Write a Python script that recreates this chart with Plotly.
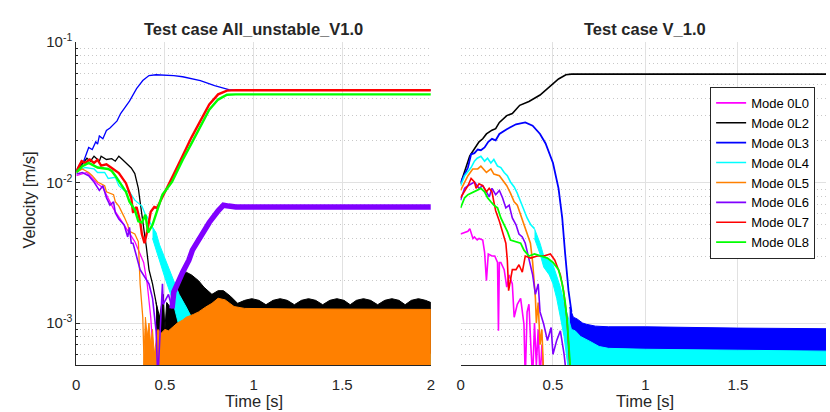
import plotly.graph_objects as go
import math

W, H = 830, 412

# ---------------- Left panel: Test case All_unstable_V1.0 ----------------
L_t_mag = [0, 0.03, 0.06, 0.09, 0.12, 0.15, 0.18, 0.21, 0.24, 0.27, 0.30, 0.33, 0.36, 0.38, 0.40, 0.41, 0.42, 0.43, 0.45]
L_v_mag = [0.0112, 0.0115, 0.0118, 0.0108, 0.0098, 0.0092, 0.0078, 0.0065, 0.0057, 0.0050, 0.0043, 0.0038, 0.0031, 0.0027, 0.0019, 0.0014, 0.0011, 0.0007, 0.0004]

L_t_blk = [0, 0.034, 0.06, 0.08, 0.10, 0.13, 0.14, 0.17, 0.20, 0.22, 0.24, 0.26, 0.29, 0.31, 0.33, 0.35, 0.36, 0.37, 0.385, 0.395, 0.41, 0.43, 0.45, 0.47]
L_v_blk = [0.0120, 0.0135, 0.0149, 0.0142, 0.0154, 0.0142, 0.0154, 0.0146, 0.0148, 0.0142, 0.0154, 0.0146, 0.0135, 0.0127, 0.0116, 0.0091, 0.0073, 0.0057, 0.0043, 0.0035, 0.0024, 0.0019, 0.0014, 0.0009]
L_t_blk_up = [0.45, 0.47, 0.49, 0.50, 0.51, 0.53, 0.55, 0.57, 0.60, 0.62, 0.65, 0.69, 0.72, 0.765, 0.80, 0.83, 0.87, 0.91, 0.95, 0.99, 1.03, 1.07, 1.11, 1.15, 1.19, 1.23, 1.27, 1.31, 1.35, 1.39, 1.43, 1.47, 1.51, 1.545, 1.58, 1.62, 1.66, 1.70, 1.74, 1.78, 1.82, 1.855, 1.89, 1.93, 1.97, 2.0]
L_v_blk_up = [0.0014, 0.0011, 0.0016, 0.0009, 0.0014, 0.0013, 0.0016, 0.0019, 0.0022, 0.0023, 0.0022, 0.0020, 0.0018, 0.0016, 0.0017, 0.0017, 0.00155, 0.00138, 0.00145, 0.00149, 0.00145, 0.00135, 0.00145, 0.00149, 0.00145, 0.00135, 0.00145, 0.00149, 0.00145, 0.00135, 0.00145, 0.00149, 0.00145, 0.00135, 0.00145, 0.00149, 0.00145, 0.00135, 0.00145, 0.00149, 0.00145, 0.00135, 0.00145, 0.00149, 0.00145, 0.00140]
L_t_blk_lo = [0.45, 2.0]
L_v_blk_lo = [0.0003, 0.0003]

L_t_blu = [0, 0.02, 0.04, 0.06, 0.07, 0.09, 0.11, 0.12, 0.13, 0.15, 0.17, 0.19, 0.21, 0.23, 0.25, 0.27, 0.30, 0.34, 0.375, 0.41, 0.45, 0.55, 0.60, 0.70, 0.78, 0.86, 0.90, 2.0]
L_v_blu = [0.0122, 0.0135, 0.0140, 0.0165, 0.0178, 0.0172, 0.0195, 0.0188, 0.0215, 0.0205, 0.0235, 0.0245, 0.0262, 0.0275, 0.0310, 0.0335, 0.0380, 0.0467, 0.0533, 0.0578, 0.0586, 0.0578, 0.0567, 0.0533, 0.0491, 0.0459, 0.0455, 0.0455]

L_t_cyn = [0, 0.05, 0.10, 0.12, 0.16, 0.18, 0.22, 0.24, 0.27, 0.30, 0.33, 0.37, 0.39, 0.40, 0.43, 0.45]
L_v_cyn = [0.0120, 0.0128, 0.0125, 0.0118, 0.0118, 0.0107, 0.0109, 0.0095, 0.0088, 0.0086, 0.0075, 0.0068, 0.0059, 0.0057, 0.0048, 0.0043]
L_t_cyn_up = [0.43, 0.45, 0.47, 0.50, 0.54, 0.58, 0.62, 0.65, 0.69, 0.72, 0.76, 0.80, 2.0]
L_v_cyn_up = [0.0048, 0.0044, 0.0036, 0.0029, 0.0022, 0.0016, 0.0013, 0.0011, 0.00093, 0.0008, 0.0007, 0.0006, 0.0006]
L_t_cyn_lo = [0.43, 0.47, 0.50, 0.54, 0.57, 0.60, 0.63, 0.66, 2.0]
L_v_cyn_lo = [0.0040, 0.0028, 0.0021, 0.0015, 0.00105, 0.00075, 0.0006, 0.0003, 0.0003]

L_t_org = [0, 0.034, 0.07, 0.09, 0.12, 0.16, 0.17, 0.21, 0.22, 0.24, 0.27, 0.29, 0.30, 0.33, 0.35, 0.355, 0.36, 0.375, 0.385]
L_v_org = [0.0118, 0.0125, 0.0118, 0.0112, 0.0101, 0.0095, 0.0086, 0.0082, 0.0073, 0.0068, 0.0057, 0.0050, 0.0045, 0.0043, 0.0038, 0.0028, 0.0019, 0.0011, 0.0004]
L_t_org_up = [0.38, 0.39, 0.40, 0.41, 0.42, 0.43, 0.44, 0.46, 0.48, 0.50, 0.52, 0.54, 0.57, 0.60, 0.62, 0.66, 0.69, 0.73, 0.765, 0.80, 0.84, 0.89, 0.95, 1.2, 1.5, 1.8, 2.0]
L_v_org_up = [0.0005, 0.0011, 0.0008, 0.0010, 0.0007, 0.0009, 0.0006, 0.0009, 0.00085, 0.0009, 0.00088, 0.00093, 0.0010, 0.00105, 0.0011, 0.00115, 0.0012, 0.0013, 0.00138, 0.0015, 0.00146, 0.00131, 0.00127, 0.00126, 0.00126, 0.00125, 0.00125]
L_t_org_lo = [0.38, 2.0]
L_v_org_lo = [0.0003, 0.0003]

L_t_pur = [0, 0.034, 0.07, 0.10, 0.13, 0.15, 0.17, 0.19, 0.21, 0.22, 0.24, 0.27, 0.29, 0.30, 0.31, 0.32, 0.36, 0.41, 0.43, 0.45, 0.46, 0.47, 0.486, 0.49, 0.52, 0.54]
L_v_pur = [0.0115, 0.0118, 0.0112, 0.0101, 0.0088, 0.0095, 0.0078, 0.0069, 0.0073, 0.0061, 0.0055, 0.0050, 0.0041, 0.0048, 0.0037, 0.0037, 0.0024, 0.0019, 0.0015, 0.00088, 0.0004, 0.00075, 0.0019, 0.00136, 0.0016, 0.00127]
L_t_pur2 = [0.54, 0.55, 0.60, 0.635, 0.655, 0.69, 0.75, 0.80, 0.83, 0.86, 0.90, 1.2, 1.5, 1.8, 2.0]
L_v_pur2 = [0.00127, 0.00166, 0.0023, 0.0028, 0.0033, 0.0039, 0.0052, 0.0063, 0.0069, 0.0068, 0.0067, 0.0067, 0.0067, 0.0067, 0.0067]

L_t_red = [0, 0.03, 0.05, 0.076, 0.10, 0.12, 0.14, 0.17, 0.20, 0.24, 0.28, 0.31, 0.32, 0.34, 0.36, 0.37, 0.385, 0.40, 0.42, 0.44, 0.455, 0.50, 0.55, 0.60, 0.65, 0.70, 0.75, 0.80, 0.85, 0.90, 2.0]
L_v_red = [0.0120, 0.0142, 0.0138, 0.0146, 0.0138, 0.0145, 0.0132, 0.0135, 0.0127, 0.0117, 0.0099, 0.0078, 0.0061, 0.0067, 0.0053, 0.0043, 0.0037, 0.0045, 0.0062, 0.0067, 0.0066, 0.0085, 0.0115, 0.0155, 0.0210, 0.0275, 0.0360, 0.0425, 0.0452, 0.0455, 0.0455]

L_t_grn = [0, 0.034, 0.07, 0.12, 0.18, 0.20, 0.22, 0.25, 0.28, 0.30, 0.33, 0.35, 0.37, 0.39, 0.405, 0.43, 0.45, 0.486, 0.54, 0.60, 0.65, 0.70, 0.75, 0.80, 0.85, 0.90, 2.0]
L_v_grn = [0.0118, 0.0131, 0.0138, 0.0128, 0.0125, 0.0121, 0.0112, 0.0099, 0.0086, 0.0073, 0.0064, 0.0053, 0.0052, 0.0059, 0.0044, 0.0050, 0.0059, 0.0082, 0.0101, 0.0145, 0.0190, 0.0250, 0.0330, 0.0390, 0.0422, 0.0425, 0.0425]

# ---------------- Right panel: Test case V_1.0 ----------------
R_t_mag = [0, 0.02, 0.04, 0.05, 0.067, 0.075, 0.09, 0.10, 0.12, 0.13, 0.14, 0.15, 0.17, 0.185, 0.20, 0.205, 0.21, 0.218, 0.236, 0.25, 0.263, 0.28, 0.29, 0.307, 0.325, 0.343, 0.35, 0.36, 0.37, 0.38, 0.39, 0.40, 0.41, 0.42, 0.43, 0.44, 0.45]
R_v_mag = [0.0043, 0.0044, 0.0045, 0.0047, 0.0040, 0.0041, 0.0039, 0.0040, 0.0039, 0.0032, 0.0020, 0.0031, 0.0030, 0.0030, 0.0027, 0.00088, 0.0027, 0.0027, 0.0024, 0.0018, 0.0022, 0.0019, 0.0011, 0.00136, 0.0015, 0.00098, 0.0004, 0.0012, 0.00136, 0.0007, 0.0004, 0.0010, 0.0005, 0.0009, 0.0004, 0.0007, 0.0004]

R_t_blk = [0, 0.05, 0.10, 0.12, 0.14, 0.17, 0.19, 0.21, 0.25, 0.28, 0.32, 0.37, 0.43, 0.48, 0.53, 0.57, 0.60, 2.0]
R_v_blk = [0.0098, 0.0155, 0.0195, 0.0205, 0.0222, 0.0236, 0.0242, 0.0268, 0.0300, 0.0310, 0.0355, 0.0378, 0.0420, 0.0480, 0.0547, 0.0586, 0.0592, 0.0592]

R_t_blu = [0, 0.02, 0.04, 0.057, 0.075, 0.093, 0.11, 0.13, 0.15, 0.17, 0.19, 0.21, 0.25, 0.30, 0.35, 0.39, 0.43, 0.46, 0.50, 0.53, 0.55, 0.566, 0.584, 0.60]
R_v_blu = [0.0100, 0.0112, 0.0128, 0.0159, 0.0162, 0.0172, 0.0170, 0.0178, 0.0195, 0.0205, 0.0200, 0.0222, 0.0240, 0.0260, 0.0268, 0.0254, 0.0222, 0.0190, 0.0138, 0.0091, 0.0056, 0.0031, 0.0017, 0.0012]
R_t_blu_up = [0.59, 0.61, 0.63, 0.66, 0.68, 0.73, 0.80, 1.0, 1.5, 2.0]
R_v_blu_up = [0.0013, 0.0011, 0.00107, 0.0010, 0.00098, 0.00095, 0.00094, 0.00094, 0.00092, 0.00091]
R_t_blu_lo = [0.59, 2.0]
R_v_blu_lo = [0.0003, 0.0003]

R_t_cyn = [0, 0.022, 0.057, 0.075, 0.09, 0.11, 0.13, 0.146, 0.164, 0.18, 0.20, 0.218, 0.236, 0.253, 0.27, 0.29, 0.307, 0.325, 0.343, 0.36, 0.38, 0.40]
R_v_cyn = [0.0095, 0.0112, 0.0128, 0.0142, 0.0149, 0.0154, 0.0142, 0.0149, 0.0138, 0.0146, 0.0131, 0.0128, 0.0118, 0.0112, 0.0101, 0.0093, 0.0084, 0.0073, 0.0063, 0.0056, 0.0050, 0.0047]
R_t_cyn_up = [0.40, 0.43, 0.45, 0.48, 0.50, 0.52, 0.54, 0.56, 0.58, 0.60, 0.62, 0.65, 0.70, 0.75, 0.80, 1.0, 1.5, 2.0]
R_v_cyn_up = [0.0047, 0.0037, 0.0030, 0.0028, 0.0026, 0.0022, 0.0018, 0.0014, 0.0011, 0.0009, 0.00088, 0.0008, 0.00074, 0.00068, 0.00066, 0.00065, 0.00064, 0.00063]
R_t_cyn_lo = [0.40, 0.43, 0.45, 0.48, 0.50, 0.52, 0.54, 0.56, 0.58, 0.60, 2.0]
R_v_cyn_lo = [0.0040, 0.0031, 0.0025, 0.0022, 0.0019, 0.0015, 0.0011, 0.0008, 0.0005, 0.0003, 0.0003]

R_t_org = [0, 0.04, 0.066, 0.093, 0.11, 0.14, 0.164, 0.18, 0.21, 0.236, 0.25, 0.27, 0.29, 0.307, 0.325, 0.343, 0.36, 0.378, 0.39, 0.40, 0.405, 0.41, 0.42, 0.43, 0.44, 0.45]
R_v_org = [0.0088, 0.0112, 0.0125, 0.0125, 0.0131, 0.0118, 0.0125, 0.0115, 0.0112, 0.0101, 0.0095, 0.0084, 0.0073, 0.0069, 0.0059, 0.0050, 0.0043, 0.0037, 0.0027, 0.0018, 0.0015, 0.0010, 0.0014, 0.0007, 0.0009, 0.0004]

R_t_pur = [0, 0.022, 0.04, 0.057, 0.075, 0.10, 0.12, 0.14, 0.155, 0.17, 0.19, 0.21, 0.227, 0.245, 0.263, 0.28, 0.30, 0.316, 0.334, 0.35, 0.378, 0.39, 0.405, 0.42, 0.43, 0.45, 0.47, 0.49, 0.50, 0.52, 0.54, 0.56, 0.575]
R_v_pur = [0.0075, 0.0091, 0.0095, 0.0098, 0.0101, 0.0091, 0.0095, 0.0086, 0.0079, 0.0091, 0.0082, 0.0088, 0.0078, 0.0066, 0.0069, 0.0056, 0.0050, 0.0043, 0.0041, 0.0037, 0.0026, 0.0022, 0.0016, 0.0019, 0.0012, 0.00098, 0.00075, 0.00093, 0.0006, 0.00075, 0.00088, 0.0006, 0.0004]

R_t_red = [0, 0.022, 0.04, 0.057, 0.075, 0.084, 0.10, 0.12, 0.14, 0.155, 0.17, 0.18, 0.19, 0.21, 0.227, 0.245, 0.253, 0.26, 0.28, 0.30, 0.316, 0.334, 0.35, 0.38, 0.414, 0.45, 0.486, 0.51, 0.54, 0.557, 0.575, 0.584, 0.595]
R_v_red = [0.0078, 0.0086, 0.0095, 0.0107, 0.0101, 0.0091, 0.0098, 0.0095, 0.0086, 0.0091, 0.0086, 0.0073, 0.0063, 0.0053, 0.0045, 0.0037, 0.0028, 0.0017, 0.0024, 0.0024, 0.0026, 0.0023, 0.0030, 0.0029, 0.0030, 0.0030, 0.0031, 0.0028, 0.0022, 0.0017, 0.0011, 0.00075, 0.0004]

R_t_grn = [0, 0.022, 0.04, 0.057, 0.075, 0.093, 0.11, 0.13, 0.146, 0.164, 0.18, 0.20, 0.218, 0.236, 0.253, 0.27, 0.30, 0.325, 0.343, 0.37, 0.40, 0.43, 0.47, 0.50, 0.53, 0.55, 0.566, 0.578, 0.59, 0.598]
R_v_grn = [0.0066, 0.0078, 0.0082, 0.0084, 0.0086, 0.0088, 0.0091, 0.0086, 0.0078, 0.0073, 0.0069, 0.0066, 0.0056, 0.0050, 0.0045, 0.0039, 0.0038, 0.0037, 0.0033, 0.0030, 0.0031, 0.0030, 0.0029, 0.0027, 0.0024, 0.0019, 0.0014, 0.00098, 0.00064, 0.0004]

MODES = ["Mode 0L0", "Mode 0L2", "Mode 0L3", "Mode 0L4", "Mode 0L5", "Mode 0L6", "Mode 0L7", "Mode 0L8"]
COLORS = ["#ff00ff", "#000000", "#0000ff", "#00ffff", "#ff8000", "#8000ff", "#ff0000", "#00ff00"]
Y_TICKS = [1e-3, 1e-2, 1e-1]
Y_TICKTEXT = ["10<sup>-3</sup>", "10<sup>-2</sup>", "10<sup>-1</sup>"]
X_TICKS = [0, 0.5, 1, 1.5, 2]
X_TICKTEXT = ["0", "0.5", "1", "1.5", "2"]
TITLES = ["Test case All_unstable_V1.0", "Test case V_1.0"]

fig = go.Figure()


def line(t, v, color, xa, ya, width=1.3, name=None, legend=False):
    fig.add_trace(go.Scatter(x=t, y=v, mode="lines", line=dict(color=color, width=width),
                             xaxis=xa, yaxis=ya, name=name, showlegend=legend, hoverinfo="skip"))


def band(tu, vu, tl, vl, color, xa, ya):
    fig.add_trace(go.Scatter(x=list(tu) + list(tl)[::-1], y=list(vu) + list(vl)[::-1],
                             mode="lines", fill="toself", fillcolor=color,
                             line=dict(color=color, width=1), xaxis=xa, yaxis=ya,
                             showlegend=False, hoverinfo="skip"))


# Left panel (plot order = legend order)
line(L_t_mag, L_v_mag, COLORS[0], "x", "y")
line(L_t_blk, L_v_blk, COLORS[1], "x", "y")
band(L_t_blk_up, L_v_blk_up, L_t_blk_lo, L_v_blk_lo, COLORS[1], "x", "y")
line(L_t_blu, L_v_blu, COLORS[2], "x", "y")
line(L_t_cyn, L_v_cyn, COLORS[3], "x", "y")
band(L_t_cyn_up, L_v_cyn_up, L_t_cyn_lo, L_v_cyn_lo, COLORS[3], "x", "y")
line(L_t_org, L_v_org, COLORS[4], "x", "y")
band(L_t_org_up, L_v_org_up, L_t_org_lo, L_v_org_lo, COLORS[4], "x", "y")
line(L_t_pur, L_v_pur, COLORS[5], "x", "y", width=1.6)
line(L_t_pur2, L_v_pur2, COLORS[5], "x", "y", width=5.5)
line(L_t_red, L_v_red, COLORS[6], "x", "y", width=2.4)
line(L_t_grn, L_v_grn, COLORS[7], "x", "y", width=2.4)

# Right panel
line(R_t_mag, R_v_mag, COLORS[0], "x2", "y2", 1.6, MODES[0], True)
line(R_t_blk, R_v_blk, COLORS[1], "x2", "y2", 1.6, MODES[1], True)
line(R_t_blu, R_v_blu, COLORS[2], "x2", "y2", 1.8, MODES[2], True)
band(R_t_blu_up, R_v_blu_up, R_t_blu_lo, R_v_blu_lo, COLORS[2], "x2", "y2")
line(R_t_cyn, R_v_cyn, COLORS[3], "x2", "y2", 1.6, MODES[3], True)
band(R_t_cyn_up, R_v_cyn_up, R_t_cyn_lo, R_v_cyn_lo, COLORS[3], "x2", "y2")
line(R_t_org, R_v_org, COLORS[4], "x2", "y2", 1.6, MODES[4], True)
line(R_t_pur, R_v_pur, COLORS[5], "x2", "y2", 1.6, MODES[5], True)
line(R_t_red, R_v_red, COLORS[6], "x2", "y2", 1.6, MODES[6], True)
line(R_t_grn, R_v_grn, COLORS[7], "x2", "y2", 1.8, MODES[7], True)

FONT = "Liberation Sans, Arial, sans-serif"
TXT = "#262626"
GRID = "#e1e1e1"
MINOR = dict(tickvals=[m * d for d in (1e-4, 1e-3, 1e-2) for m in range(2, 10)],
             showgrid=True, gridcolor="#c8c8c8", griddash="1px,3px", gridwidth=1,
             ticks="", ticklen=0)

ylo = math.log10(5e-4)
top_px, bot_px = 32, 364
ydom = [1 - bot_px / H, 1 - top_px / H]

xcommon = dict(range=[0, 2], tickmode="array", tickvals=X_TICKS, ticktext=X_TICKTEXT,
               showgrid=True, gridcolor=GRID, gridwidth=1, zeroline=False,
               showline=True, linecolor=TXT, linewidth=1, ticks="",
               tickfont=dict(family=FONT, size=15, color=TXT), ticklabelstandoff=6)

fig.update_layout(
    width=W, height=H, margin=dict(l=0, r=0, t=0, b=0),
    paper_bgcolor="white", plot_bgcolor="white",
    xaxis=dict(domain=[73 / W, 431 / W], anchor="y", **xcommon),
    xaxis2=dict(domain=[461 / W, 1.0], anchor="y2", **{**xcommon, "range": [0, 1.977]}),
    yaxis=dict(type="log", range=[ylo, -1], domain=ydom, anchor="x",
               tickmode="array", tickvals=Y_TICKS, ticktext=Y_TICKTEXT,
               showgrid=True, gridcolor=GRID, zeroline=False,
               showline=True, linecolor=TXT, linewidth=1,
               ticks="inside", ticklen=4, tickcolor=TXT,
               tickfont=dict(family=FONT, size=15, color=TXT),
               minor={**MINOR, "ticks": "inside", "ticklen": 2, "tickcolor": TXT}),
    yaxis2=dict(type="log", range=[ylo, -1], domain=ydom, anchor="x2",
                tickmode="array", tickvals=Y_TICKS, showticklabels=False,
                showgrid=True, gridcolor=GRID, zeroline=False, showline=False,
                ticks="", minor=MINOR),
    legend=dict(x=713 / W, y=1 - 78 / H, xanchor="left", yanchor="top",
                bgcolor="white", bordercolor=TXT, borderwidth=1,
                font=dict(family=FONT, size=13, color="#000000"),
                tracegroupgap=0),
    showlegend=True,
)

ann = []
ann.append(dict(text="<b>" + TITLES[0] + "</b>", x=252 / W, y=1 - 19 / H))
ann.append(dict(text="<b>" + TITLES[1] + "</b>", x=647 / W, y=1 - 19 / H))
ann.append(dict(text="Time [s]", x=252 / W, y=1 - 401 / H))
ann.append(dict(text="Time [s]", x=647 / W, y=1 - 401 / H))
for a in ann:
    fig.add_annotation(xref="paper", yref="paper", xanchor="center", yanchor="middle",
                       showarrow=False, font=dict(family=FONT, size=16.5, color=TXT), **a)
fig.add_annotation(text="Velocity [m/s]", xref="paper", yref="paper", x=25 / W, y=1 - 194 / H,
                   xanchor="center", yanchor="middle", textangle=-90, showarrow=False,
                   font=dict(family=FONT, size=16.5, color=TXT))

fig.write_html("out.html")
